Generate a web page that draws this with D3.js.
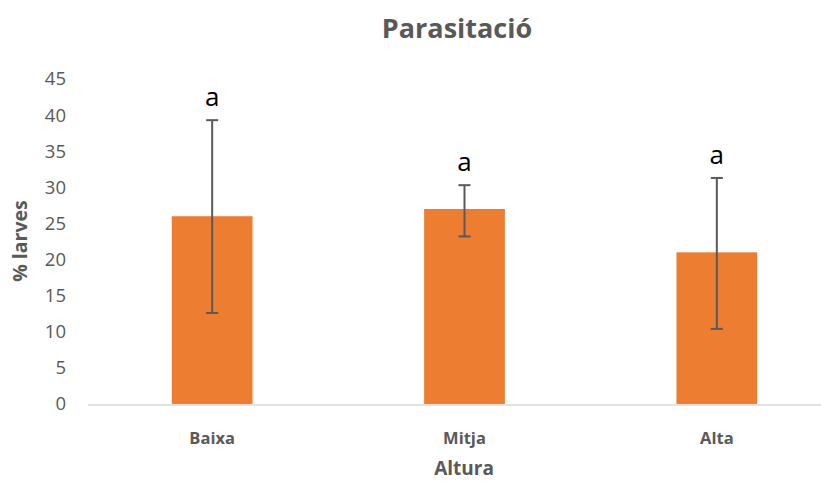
<!DOCTYPE html>
<html>
<head>
<meta charset="utf-8">
<script src="https://cdn.jsdelivr.net/npm/d3@7"></script>
<style>
  body { margin: 0; background: #fff; }
  text { font-family: "Open Sans", "Liberation Sans", sans-serif; }
</style>
</head>
<body>
<div id="chart"></div>
<script>
const CATEGORIES = ["Baixa", "Mitja", "Alta"];
const VALUES = [26.0, 27.0, 21.0];
const ERR_LOW = [12.6, 23.2, 10.4];
const ERR_HIGH = [39.3, 30.3, 31.3];
const LETTERS = ["a", "a", "a"];
const Y_TICKS = [0, 5, 10, 15, 20, 25, 30, 35, 40, 45];

const W = 821, H = 482;
const PLOT = {left: 86, right: 843, top: 79, bottom: 404};
const GREY = "#595959";

var svg = d3.select("#chart").append("svg")
            .attr("width", W)
            .attr("height", H);

var x = d3.scaleBand()
          .domain(CATEGORIES)
          .range([PLOT.left, PLOT.right])
          .paddingInner(0.68)
          .paddingOuter(0.34);

var y = d3.scaleLinear()
          .domain([0, 45])
          .range([PLOT.bottom, PLOT.top]);

// y axis labels only (no line)
var yAxis = svg.append("g")
               .attr("transform", "translate(" + PLOT.left + ",0)")
               .call(d3.axisLeft(y).tickValues(Y_TICKS).tickSize(0).tickPadding(20));
yAxis.select(".domain").remove();
yAxis.selectAll("text")
     .attr("fill", GREY)
     .style("font-size", "18.5px");

// bars
svg.selectAll("rect.bar")
   .data(CATEGORIES)
   .enter()
   .append("rect")
   .classed("bar", true)
   .attr("x", (d) => x(d))
   .attr("y", (d, i) => y(VALUES[i]))
   .attr("width", x.bandwidth())
   .attr("height", (d, i) => y(0) - y(VALUES[i]))
   .attr("fill", "#ED7D31");

// baseline
svg.append("line")
   .attr("x1", PLOT.left + 2)
   .attr("x2", W)
   .attr("y1", y(0) + 1)
   .attr("y2", y(0) + 1)
   .attr("stroke", "#D9D9D9")
   .attr("stroke-width", 1.5);

// error bars
var eg = svg.selectAll("g.err")
            .data(CATEGORIES)
            .enter()
            .append("g")
            .classed("err", true)
            .attr("transform", (d) => "translate(" + (x(d) + x.bandwidth() / 2) + ",0)");
eg.append("line")
  .attr("y1", (d, i) => y(ERR_LOW[i]))
  .attr("y2", (d, i) => y(ERR_HIGH[i]))
  .attr("stroke", GREY).attr("stroke-width", 2);
eg.append("line")
  .attr("x1", -6).attr("x2", 6)
  .attr("y1", (d, i) => y(ERR_HIGH[i]))
  .attr("y2", (d, i) => y(ERR_HIGH[i]))
  .attr("stroke", GREY).attr("stroke-width", 2);
eg.append("line")
  .attr("x1", -6).attr("x2", 6)
  .attr("y1", (d, i) => y(ERR_LOW[i]))
  .attr("y2", (d, i) => y(ERR_LOW[i]))
  .attr("stroke", GREY).attr("stroke-width", 2);
eg.append("text")
  .attr("y", (d, i) => y(ERR_HIGH[i]) - 14)
  .attr("text-anchor", "middle")
  .attr("fill", "#000")
  .style("font-size", "26px")
  .text((d, i) => LETTERS[i]);

// category labels
svg.selectAll("text.cat")
   .data(CATEGORIES)
   .enter()
   .append("text")
   .classed("cat", true)
   .attr("x", (d) => x(d) + x.bandwidth() / 2)
   .attr("y", 444)
   .attr("text-anchor", "middle")
   .attr("fill", GREY)
   .style("font-size", "16.5px")
   .style("font-weight", "bold")
   .text((d) => d);

// titles
svg.append("text")
   .attr("x", 457)
   .attr("y", 38)
   .attr("text-anchor", "middle")
   .attr("fill", GREY)
   .style("font-size", "27px")
   .style("font-weight", "bold")
   .text("Parasitació");

svg.append("text")
   .attr("x", 464)
   .attr("y", 475)
   .attr("text-anchor", "middle")
   .attr("fill", GREY)
   .style("font-size", "19px")
   .style("font-weight", "bold")
   .text("Altura");

svg.append("text")
   .attr("transform", "translate(27,241) rotate(-90)")
   .attr("text-anchor", "middle")
   .attr("fill", GREY)
   .style("font-size", "19.5px")
   .style("font-weight", "bold")
   .text("% larves");
</script>
</body>
</html>
